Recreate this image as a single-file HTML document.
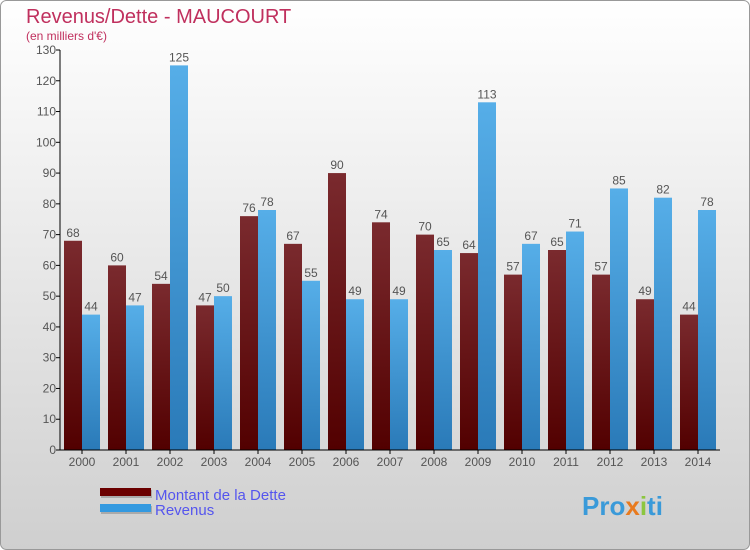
<!DOCTYPE html>
<html><head><meta charset="utf-8"><style>
body{margin:0}
svg{display:block;font-family:"Liberation Sans","DejaVu Sans",sans-serif}
</style></head><body>
<svg width="750" height="550" viewBox="0 0 750 550" xmlns="http://www.w3.org/2000/svg">
<defs>
<linearGradient id="bg" x1="0" y1="0" x2="0" y2="1"><stop offset="0" stop-color="#ffffff"/><stop offset="1" stop-color="#cfcfcf"/></linearGradient>
<linearGradient id="gd" x1="0" y1="0" x2="0" y2="1"><stop offset="0" stop-color="#7a2a2e"/><stop offset="1" stop-color="#520000"/></linearGradient>
<linearGradient id="gr" x1="0" y1="0" x2="0" y2="1"><stop offset="0" stop-color="#56aee8"/><stop offset="1" stop-color="#2a7ab8"/></linearGradient>
</defs>
<rect x="0.5" y="0.5" width="749" height="549" rx="6" fill="url(#bg)" stroke="#999"/>
<text x="26" y="23" font-size="20" fill="#c0305e">Revenus/Dette - MAUCOURT</text>
<text x="26" y="40" font-size="12" fill="#c0305e">(en milliers d'€)</text>
<g id="bars"></g>
<g id="axes"></g>
<g>
<rect x="101" y="490" width="51" height="8" fill="#aaa"/>
<rect x="100" y="488" width="51" height="8" fill="#6b0000"/>
<text x="155" y="500" font-size="15" fill="#5555ee">Montant de la Dette</text>
<rect x="101" y="506" width="51" height="8" fill="#aaa"/>
<rect x="100" y="504" width="51" height="8" fill="#3399e0"/>
<text x="155" y="515" font-size="15" fill="#5555ee">Revenus</text>
</g>
<text x="582" y="515" font-size="26" font-weight="bold" fill="#3a9ad9">Pro<tspan fill="#e87a1e">x</tspan><tspan fill="#8cc63f">i</tspan>ti</text>
</svg>
<script>
const years=["2000","2001","2002","2003","2004","2005","2006","2007","2008","2009","2010","2011","2012","2013","2014"];
const dette=[68,60,54,47,76,67,90,74,70,64,57,65,57,49,44];
const revenus=[44,47,125,50,78,55,49,49,65,113,67,71,85,82,78];
const yTicks=[0,10,20,30,40,50,60,70,80,90,100,110,120,130];
const NS="http://www.w3.org/2000/svg";
const x0=60,y0=450,yTop=50,yMax=130,step=44,bw=18;
const y=v=>y0-(v/yMax)*(y0-yTop);
const xc=i=>x0+step*i+step/2;
function mk(t,a,p){const e=document.createElementNS(NS,t);for(const k in a)e.setAttribute(k,a[k]);p.appendChild(e);return e;}
const bars=document.getElementById('bars'),axes=document.getElementById('axes');
yTicks.forEach(v=>{
 const t=mk('line',{x1:x0-4,x2:x0,y1:y(v),y2:y(v),stroke:'#000'},axes);
 
 
 const tx=mk('text',{x:x0-4,y:y(v)+4,'font-size':12,fill:'#555','text-anchor':'end'},axes);
 tx.textContent=v;
 
 
});
years.forEach((yr,i)=>{
 const c=xc(i);
 [[dette[i],c-bw,'url(#gd)','bar-dette'],[revenus[i],c,'url(#gr)','bar-revenus']].forEach(([v,bx,f,n])=>{
  const r=mk('rect',{x:bx,y:y(v),width:bw,height:y0-y(v),fill:f},bars);
  
  
  const t=mk('text',{x:bx+bw/2,y:y(v)-4,'font-size':12,fill:'#555','text-anchor':'middle'},bars);
  t.textContent=v;
  
  
 });
 const tk=mk('line',{x1:c,x2:c,y1:y0,y2:y0+4,stroke:'#000'},axes);
 
 
 const tx=mk('text',{x:c,y:y0+16,'font-size':12,fill:'#555','text-anchor':'middle'},axes);
 tx.textContent=yr;
 
 
});
const ya=mk('line',{x1:x0,x2:x0,y1:yTop,y2:y0,stroke:'#000'},axes);


const xa=mk('line',{x1:x0,x2:720,y1:y0,y2:y0,stroke:'#000'},axes);


</script>
</body></html>
